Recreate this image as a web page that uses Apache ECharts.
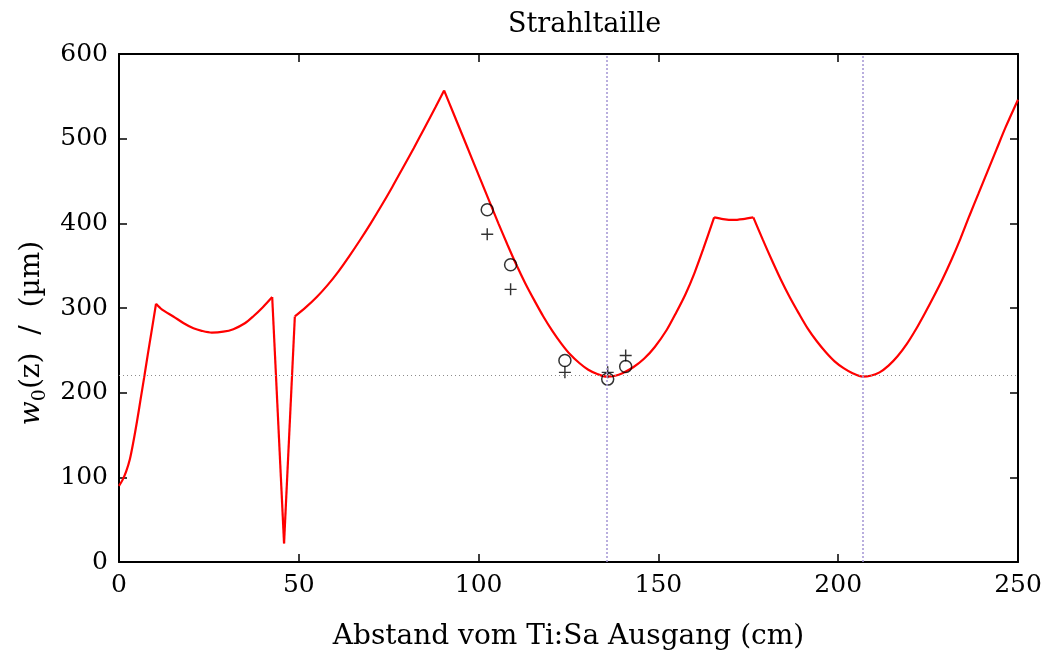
<!DOCTYPE html>
<html lang="de" style="height: 100%">
<head>
  <meta charset="utf-8">
  <title>Strahltaille</title>
</head>
<body style="height: 100%; margin: 0; background: #fff;">
  <div id="container" style="width: 1046px; height: 657px;"></div>

  <script src="https://cdn.jsdelivr.net/npm/echarts@6/dist/echarts.min.js"></script>

  <script type="text/javascript">
    // berechneter Strahlradius (cm, µm)
    const zCurve = [0, 1, 2, 3, 4, 5, 6, 7, 8, 9, 10.3,
      12, 15.1, 18, 20.7, 23, 25.8, 29, 31.8, 35, 37.3, 40, 42.6,
      45.9, 48.9,
      52, 55, 58, 61, 64, 67, 70, 73, 76, 79, 82, 85, 88, 90.4,
      93, 95.5, 98, 100.5, 103, 105.5, 108, 110.5, 113, 115.5, 118, 120.5, 123, 125.5, 128, 130.5, 133, 135.6,
      138, 140, 143, 146, 149, 152.3, 155, 157.5, 160, 162.5, 165.5,
      168, 170.8, 173.5, 176.4,
      179, 181.5, 184, 186.5, 189, 191.5, 194, 196.5, 199, 201.5, 204, 206.8,
      209, 211.5, 214, 216.5, 219, 221.5, 224, 226.5, 229, 231.5, 234, 236.5, 239, 241.5, 244, 246.5, 250];
    const wCurve = [90, 97, 107, 121, 142, 166, 192, 218, 245, 271, 305,
      298, 290, 282, 276, 273, 271, 272, 275, 282, 290, 301, 313,
      22, 290,
      301, 313, 327, 343, 361, 380, 400, 421, 443, 466, 489, 513, 537, 557,
      530, 504, 478, 452, 426, 400, 375, 351, 329, 309, 290, 273, 258, 245, 235, 227, 222, 219,
      220, 223, 230, 240, 254, 274, 295, 316, 341, 370, 407,
      405, 404, 405, 407,
      381, 357, 334, 313, 294, 276, 261, 248, 237, 229, 223, 219,
      220, 224, 232, 243, 257, 274, 293, 313, 334, 357, 382, 409, 435, 461, 487, 513, 546];
    // Knicke der Kurve (Linsen / Spiegel)
    const kinks = [10.3, 42.6, 45.9, 48.9, 90.4, 165.5, 176.4];

    // Messpunkte
    const zMeas = [102.4, 108.9, 124.0, 135.9, 140.9];
    const wMeasO = [416, 351, 238, 216, 231];
    const wMeasPlus = [387, 322, 224, 224, 244];

    const waistPositions = [135.5, 206.8];
    const waistLevel = 221;

    const xTicks = [0, 50, 100, 150, 200, 250];
    const yTicks = [0, 100, 200, 300, 400, 500, 600];

    const font = 'DejaVu Serif';
    const pairs = (xs, ys) => xs.map((x, i) => [x, ys[i]]);

    // Kurve an den Knicken in glatte Stuecke teilen
    const segments = [];
    let cur = [];
    zCurve.forEach((z, i) => {
      cur.push([z, wCurve[i]]);
      if (kinks.includes(z)) {
        segments.push(cur);
        cur = [[z, wCurve[i]]];
      }
    });
    segments.push(cur);

    const chart = echarts.init(document.getElementById('container'));

    const baseX = {
      type: 'value', min: xTicks[0], max: xTicks[xTicks.length - 1], interval: 50,
      axisLine: { show: true, onZero: false, lineStyle: { color: '#000', width: 2 } },
      axisTick: { show: true, inside: true, length: 8, lineStyle: { color: '#000', width: 1.5 } },
      splitLine: { show: false }
    };
    const baseY = {
      type: 'value', min: yTicks[0], max: yTicks[yTicks.length - 1], interval: 100,
      axisLine: { show: true, onZero: false, lineStyle: { color: '#000', width: 2 } },
      axisTick: { show: true, inside: true, length: 8, lineStyle: { color: '#000', width: 1.5 } },
      splitLine: { show: false }
    };

    const plusPath = 'path://M4.4,0H5.6V4.4H10V5.6H5.6V10H4.4V5.6H0V4.4H4.4Z';

    const curveSeries = segments.map((seg, k) => ({
      type: 'line',
      data: seg,
      showSymbol: false,
      smooth: 0.3,
      lineStyle: { color: '#ff0000', width: 2.2 },
      z: 3,
      markLine: k === 0 ? {
        silent: true,
        symbol: 'none',
        label: { show: false },
        data: [
          { yAxis: waistLevel, lineStyle: { color: '#8c8c8c', width: 1, type: [1, 3] } },
          ...waistPositions.map(p => ({ xAxis: p, lineStyle: { color: '#a294d4', width: 1.5, type: [2, 2] } }))
        ]
      } : undefined
    }));

    chart.setOption({
      animation: false,
      title: {
        text: 'Strahltaille',
        left: 503, top: 6,
        textStyle: { fontFamily: font, fontSize: 27, fontWeight: 'normal', color: '#000' }
      },
      grid: { left: 119, right: 28, top: 54, bottom: 95 },
      xAxis: [
        Object.assign({}, baseX, {
          position: 'bottom',
          axisLabel: { margin: 11, fontFamily: font, fontSize: 25, color: '#000' },
          name: 'Abstand vom Ti:Sa Ausgang (cm)',
          nameLocation: 'middle', nameGap: 61,
          nameTextStyle: { fontFamily: font, fontSize: 28, color: '#000' }
        }),
        Object.assign({}, baseX, { position: 'top', axisLabel: { show: false } })
      ],
      yAxis: [
        Object.assign({}, baseY, {
          position: 'left',
          axisLabel: { margin: 11, fontFamily: font, fontSize: 25, color: '#000' },
          name: '{i|w}{s|0}(z)  /  (µm)',
          nameLocation: 'middle', nameGap: 60, nameRotate: 90,
          nameTextStyle: {
            fontFamily: font, fontSize: 28, color: '#000',
            padding: [0, 50, 0, 0],
            rich: {
              i: { fontFamily: font, fontSize: 28, fontStyle: 'italic', color: '#000' },
              s: { fontFamily: font, fontSize: 19, color: '#000', verticalAlign: 'bottom', padding: [16, 0, 0, 0] }
            }
          }
        }),
        Object.assign({}, baseY, { position: 'right', axisLabel: { show: false } })
      ],
      series: [
        ...curveSeries,
        {
          type: 'scatter',
          data: pairs(zMeas, wMeasO),
          symbol: 'circle',
          symbolSize: 12,
          itemStyle: { color: 'rgba(255,255,255,0)', borderColor: '#000', borderWidth: 1.5 },
          z: 4
        },
        {
          type: 'scatter',
          data: pairs(zMeas, wMeasPlus),
          symbol: plusPath,
          symbolSize: 12,
          itemStyle: { color: '#000' },
          z: 4
        }
      ]
    });

    window.addEventListener('resize', chart.resize);
  </script>
</body>
</html>
